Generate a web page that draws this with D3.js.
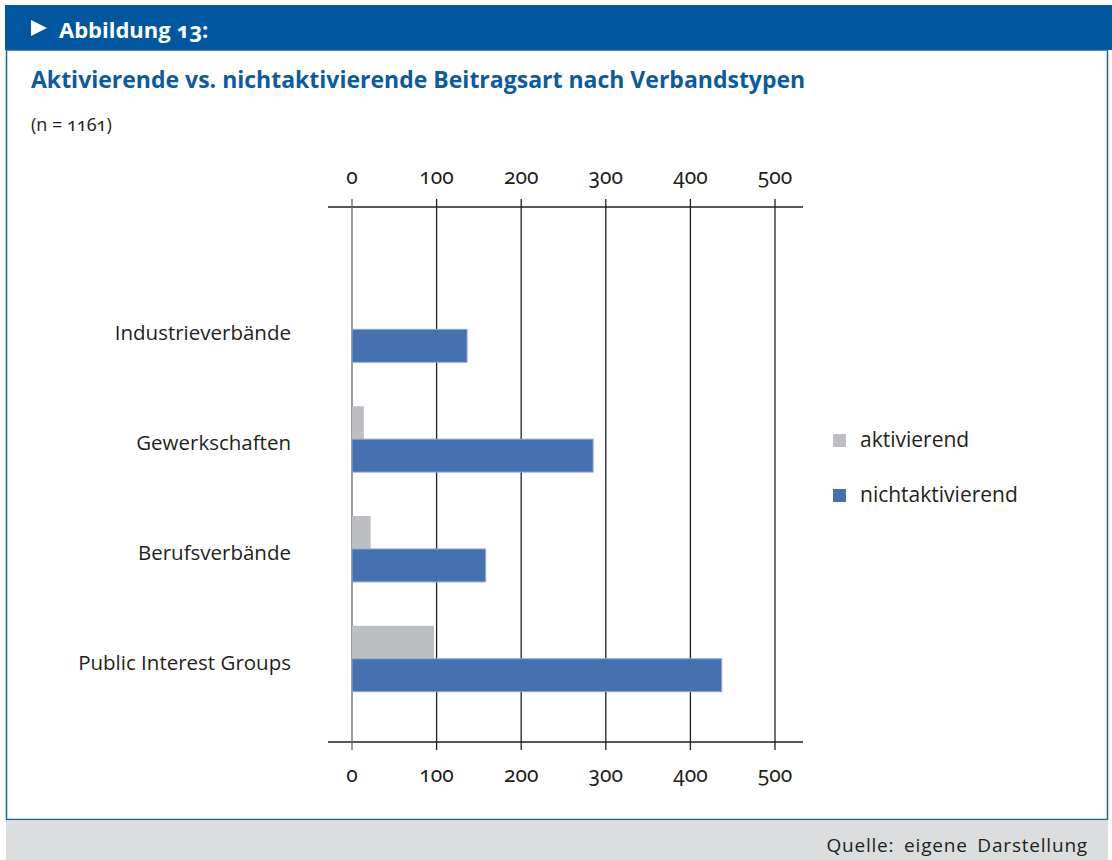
<!DOCTYPE html>
<html>
<head>
<meta charset="utf-8">
<script src="https://cdn.jsdelivr.net/npm/d3@7"></script>
<style>
  body { margin: 0; background: #fff; }
  svg text { font-family: "Open Sans", "Noto Sans", sans-serif; fill: #231f20; }
  .num { font-family: "Noto Sans", sans-serif; font-variant-numeric: oldstyle-nums; font-feature-settings: "onum" 1; }
</style>
</head>
<body>
<script>
// data
const categories = ["Industrieverbände", "Gewerkschaften", "Berufsverbände", "Public Interest Groups"];
const seriesNames = ["aktivierend", "nichtaktivierend"];
const aktivierend = [0, 14, 22, 97];
const nichtaktivierend = [136, 285, 158, 437];
const tickValues = [0, 100, 200, 300, 400, 500];

const colors = { aktivierend: "#bdbec2", nichtaktivierend: "#4571b0" };

const width = 1112, height = 860;
const svg = d3.select("body").append("svg")
    .attr("width", width)
    .attr("height", height);

// frame
svg.append("rect").attr("x", 5).attr("y", 5).attr("width", 1107).attr("height", 45).attr("fill", "#00569f");
svg.append("rect").attr("x", 6.5).attr("y", 50).attr("width", 1101).attr("height", 769.5)
    .attr("fill", "none").attr("stroke", "#1f5fab").attr("stroke-width", 1.5);
svg.append("rect").attr("x", 6).attr("y", 820.5).attr("width", 1102).attr("height", 40).attr("fill", "#dcdddf");

svg.append("path").attr("d", "M31,20 L47,28 L31,36 Z").attr("fill", "#fff");
svg.append("text").attr("x", 59).attr("y", 38)
    .style("font-size", "22px").style("font-weight", "bold").style("fill", "#fff")
    .html('Abbildung <tspan class="num">13</tspan>:');

svg.append("text").attr("x", 31).attr("y", 88)
    .style("font-size", "23px").style("font-weight", "bold").style("font-stretch", "93%")
    .style("fill", "#0b5aa2")
    .text("Aktivierende vs. nichtaktivierende Beitragsart nach Verbandstypen");

svg.append("text").attr("x", 31).attr("y", 131).style("font-size", "18px")
    .html('(n = <tspan class="num">1161</tspan>)');

svg.append("text").attr("x", 1088).attr("y", 852).attr("text-anchor", "end")
    .style("font-size", "19px").style("letter-spacing", "0.8px").style("word-spacing", "4px")
    .text("Quelle: eigene Darstellung");

// scales
const plotTop = 207, plotBottom = 742;
const x = d3.scaleLinear().domain([0, 500]).range([352, 775]);
const y = d3.scaleBand().domain(categories)
    .range([plotTop, plotBottom])
    .paddingInner(0.4).paddingOuter(0.636).align(0.64);
const ySub = d3.scaleBand().domain(seriesNames).range([0, y.bandwidth()]);

// horizontal axis lines
[plotTop, plotBottom].forEach(v => {
    svg.append("line").attr("x1", x(0) - 24).attr("x2", x(500) + 28)
        .attr("y1", v).attr("y2", v)
        .attr("stroke", "#231f20").attr("stroke-width", 1.4);
});

// grid lines / ticks
svg.append("g").selectAll("line").data(tickValues).join("line")
    .attr("x1", d => x(d)).attr("x2", d => x(d))
    .attr("y1", plotTop - 8).attr("y2", plotBottom + 8)
    .attr("stroke", d => d === 0 ? "#666" : "#231f20")
    .attr("stroke-width", 1.3);

// bars
const rows = categories.map((c, i) => ({ cat: c, aktivierend: aktivierend[i], nichtaktivierend: nichtaktivierend[i] }));
const group = svg.append("g").selectAll("g").data(rows).join("g")
    .attr("transform", d => `translate(0,${y(d.cat)})`);
group.selectAll("rect")
    .data(d => seriesNames.map(s => ({ key: s, value: d[s] })).filter(d => d.value > 0))
    .join("rect")
    .attr("x", x(0))
    .attr("y", d => ySub(d.key))
    .attr("width", d => x(d.value) - x(0))
    .attr("height", ySub.bandwidth())
    .attr("fill", d => colors[d.key])
    .attr("stroke", d => d.key === "nichtaktivierend" ? "#8ea7d6" : "none")
    .attr("stroke-width", 1);

// axis labels
[184, 782].forEach(yy => {
    svg.append("g").selectAll("text").data(tickValues).join("text")
        .attr("class", "num")
        .attr("x", d => x(d)).attr("y", yy)
        .attr("text-anchor", "middle")
        .style("font-size", "21px")
        .text(d => d);
});

// category labels
svg.append("g").selectAll("text").data(categories).join("text")
    .attr("x", 291)
    .attr("y", d => y(d) + y.bandwidth() / 2 + 11)
    .attr("text-anchor", "end")
    .style("font-size", "20.5px")
    .text(d => d);

// legend
const legend = svg.append("g").selectAll("g").data(seriesNames).join("g")
    .attr("transform", (d, i) => `translate(833,${434 + i * 55})`);
legend.append("rect").attr("width", 13).attr("height", 13).attr("fill", d => colors[d]);
legend.append("text").attr("x", 27).attr("y", 13).style("font-size", "21px").text(d => d);
</script>
</body>
</html>
